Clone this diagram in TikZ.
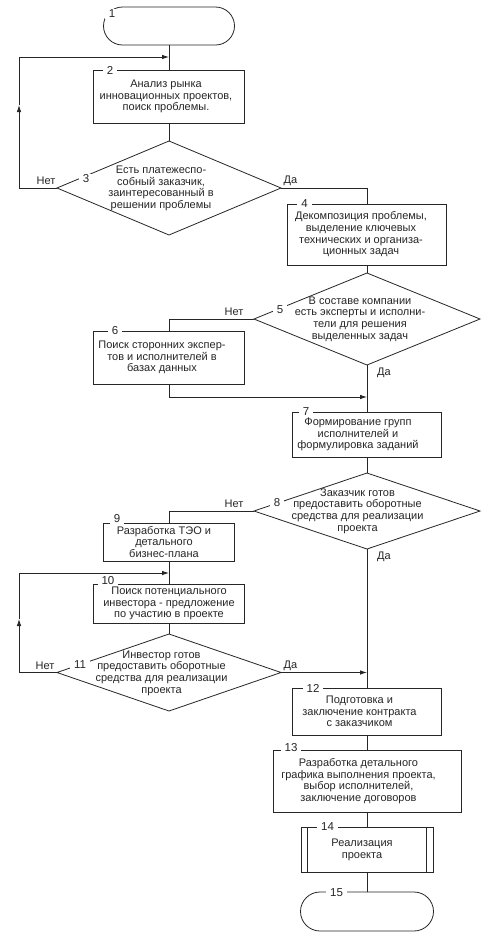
\documentclass[tikz,border=0pt]{standalone}
\usepackage{fontspec}
\setmainfont{Liberation Sans}
\usetikzlibrary{shapes.geometric,shapes.misc,arrows.meta}
\tikzset{
  ln/.style={draw=black!85, line width=0.8pt},
  shp/.style={ln, inner sep=0pt, outer sep=0pt},
  procbox/.style={shp, rectangle},
  decbox/.style={shp, diamond},
  termbox/.style={shp, rounded rectangle},
  txt/.style={font=\fontsize{11}{11.7}\selectfont, align=center, inner sep=0pt, text=black!85},
  numlab/.style={fill=white, font=\fontsize{11.5}{12}\selectfont, inner xsep=4pt, inner ysep=1pt, text=black!85},
  yn/.style={font=\fontsize{11}{12}\selectfont, inner sep=0pt, text=black!85},
  conn/.style={ln},
  arr/.style={ln, -{Latex[length=7pt,width=4.5pt]}},
}
\begin{document}
\begin{tikzpicture}[x=1pt,y=-1pt]
\useasboundingbox[fill=white] (0,0) rectangle (498,938);
% shapes
\node[termbox, minimum width=131pt, minimum height=38pt] (t1) at (169,26) {};
\node[procbox, minimum width=151pt, minimum height=53pt] (b2) at (169,96.5) {};
\node[decbox, minimum width=224pt, minimum height=94pt] (d3) at (169,188) {};
\node[procbox, minimum width=159pt, minimum height=61pt] (b4) at (367,234.5) {};
\node[decbox, minimum width=226pt, minimum height=92pt] (d5) at (367,319) {};
\node[procbox, minimum width=151pt, minimum height=53pt] (b6) at (169,357.5) {};
\node[procbox, minimum width=149pt, minimum height=45pt] (b7) at (367,434.5) {};
\node[decbox, minimum width=226pt, minimum height=76pt] (d8) at (367,511) {};
\node[procbox, minimum width=131pt, minimum height=38pt] (b9) at (169,542) {};
\node[procbox, minimum width=151pt, minimum height=39pt] (b10) at (169,603.5) {};
\node[decbox, minimum width=224pt, minimum height=77pt] (d11) at (169,672.5) {};
\node[procbox, minimum width=149pt, minimum height=47pt] (b12) at (367,711.5) {};
\node[procbox, minimum width=188pt, minimum height=62pt] (b13) at (367,781) {};
\node[procbox, minimum width=132pt, minimum height=45pt] (b14) at (367,849.5) {};
\draw[ln] ([xshift=6.5pt]b14.north west) -- ([xshift=6.5pt]b14.south west);
\draw[ln] ([xshift=-6.5pt]b14.north east) -- ([xshift=-6.5pt]b14.south east);
\node[termbox, minimum width=133pt, minimum height=39pt] (t15) at (367,911.5) {};
% texts
\node[txt] (b2t) at (166,96.5) {Анализ рынка\\инновационных проектов,\\поиск проблемы.};
\node[txt] (d3t) at (161,188.5) {Есть платежеспо-\\собный заказчик,\\заинтересованный в\\решении проблемы};
\node[txt] (b4t) at (361,234.5) {Декомпозиция проблемы,\\выделение ключевых\\технических и организа-\\ционных задач};
\node[txt] (d5t) at (360,319) {В составе компании\\есть эксперты и исполни-\\тели для решения\\выделенных задач};
\node[txt] (b6t) at (162,357.5) {Поиск сторонних экспер-\\тов и исполнителей в\\базах данных};
\node[txt] (b7t) at (358,434.5) {Формирование групп\\исполнителей и\\формулировка заданий};
\node[txt] (d8t) at (357.5,511) {Заказчик готов\\предоставить оборотные\\средства для реализации\\проекта};
\node[txt] (b9t) at (164,542) {Разработка ТЭО и\\детального\\бизнес-плана};
\node[txt] (b10t) at (169,603.5) {Поиск потенциального\\инвестора - предложение\\по участию в проекте};
\node[txt] (d11t) at (161.5,673) {Инвестор готов\\предоставить оборотные\\средства для реализации\\проекта};
\node[txt] (b12t) at (359.5,711.5) {Подготовка и\\заключение контракта\\с заказчиком};
\node[txt] (b13t) at (358.5,781) {Разработка детального\\графика выполнения проекта,\\выбор исполнителей,\\заключение договоров};
\node[txt] (b14t) at (362,849.5) {Реализация\\проекта};
% junction coordinates
\coordinate (l3) at (19,188);
\coordinate (m3) at (19,105);
\coordinate (c3) at (19,57);
\coordinate (j2) at (169,57);
\coordinate (j7) at (367,397);
\coordinate (l11) at (19,672.5);
\coordinate (m11) at (19,619);
\coordinate (c11) at (19,573);
\coordinate (j10) at (169,573);
\coordinate (j12) at (367,672.5);
% connectors
\draw[conn] (t1.south) -- (b2.north);
\draw[conn] (b2.south) -- (d3.north);
\draw[arr] (d3.west) -- (l3) -- (m3);
\draw[arr] (m3) -- (c3) -- (j2);
\draw[conn] (d3.east) -| (b4.north);
\draw[conn] (b4.south) -- (d5.north);
\draw[conn] (d5.west) -| (b6.north);
\draw[arr] (b6.south) |- (j7);
\draw[conn] (d5.south) -- (b7.north);
\draw[conn] (b7.south) -- (d8.north);
\draw[conn] (d8.west) -| (b9.north);
\draw[conn] (b9.south) -- (b10.north);
\draw[arr] (d11.west) -- (l11) -- (m11);
\draw[arr] (m11) -- (c11) -- (j10);
\draw[conn] (b10.south) -- (d11.north);
\draw[arr] (d11.east) -- (j12);
\draw[conn] (d8.south) -- (b12.north);
\draw[conn] (b12.south) -- (b13.north);
\draw[conn] (b13.south) -- (b14.north);
\draw[conn] (b14.south) -- (t15.north);
% yes / no labels
\node[yn] (no3) at (46,181) {Нет};
\node[yn] (yes3) at (290.5,181) {Да};
\node[yn] (no5) at (234,312) {Нет};
\node[yn] (yes5) at (384,373) {Да};
\node[yn] (no8) at (234,504) {Нет};
\node[yn] (yes8) at (384,557) {Да};
\node[yn] (no11) at (45,666) {Нет};
\node[yn] (yes11) at (290.5,666) {Да};
% number labels
\node[numlab] (n1) at (112,14) {1};
\node[numlab] (n2) at (110,70) {2};
\node[numlab] (n3) at (86,179) {3};
\node[numlab] (n4) at (304.5,204) {4};
\node[numlab] (n5) at (280,310) {5};
\node[numlab] (n6) at (115,331) {6};
\node[numlab] (n7) at (306,412) {7};
\node[numlab] (n8) at (277,503) {8};
\node[numlab] (n9) at (117,519) {9};
\node[numlab] (n10) at (108,581) {10};
\node[numlab] (n11) at (80,665) {11};
\node[numlab] (n12) at (313,688) {12};
\node[numlab] (n13) at (291,748) {13};
\node[numlab] (n14) at (327.5,827) {14};
\node[numlab] (n15) at (336.5,893) {15};
\end{tikzpicture}
\end{document}
